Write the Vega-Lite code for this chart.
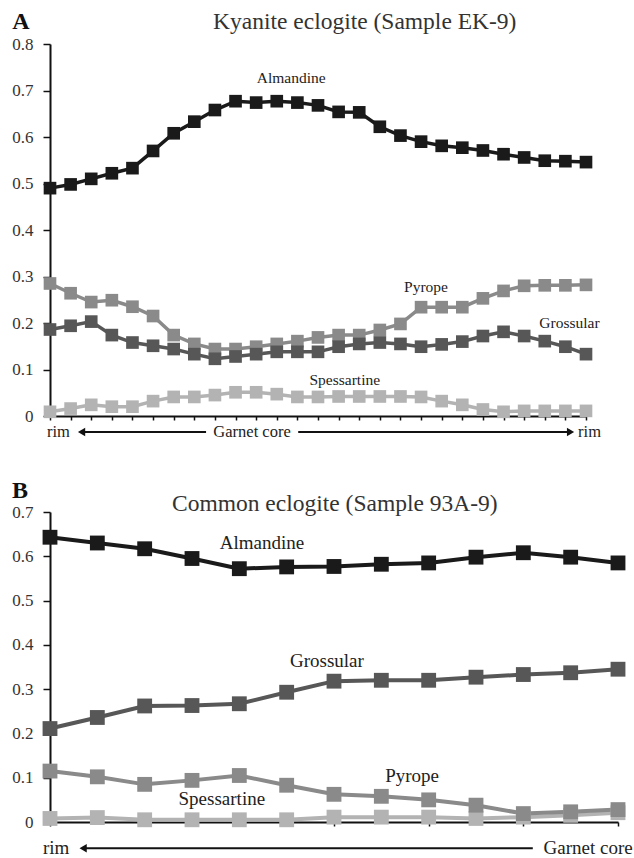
{
  "$schema": "https://vega.github.io/schema/vega-lite/v6.json",
  "background": "white",
  "padding": {"left": 11, "top": 10, "right": 5, "bottom": 5},
  "bounds": "flush",
  "spacing": 96,
  "config": {
    "view": {"stroke": null},
    "font": "Liberation Serif",
    "axis": {"grid": false, "domainColor": "#111", "domainWidth": 2, "tickColor": "#111", "tickWidth": 1.5, "labelFont": "Liberation Serif", "labelFontSize": 17, "labelColor": "#333", "title": null, "format": ".1~f"},
    "axisX": {"labels": false, "tickSize": 4},
    "axisY": {"tickSize": 7, "labelPadding": 10}
  },
  "datasets": {
    "topLines": [
      {"pos":0,"value":0.49,"mineral":"Almandine"},{"pos":1,"value":0.498,"mineral":"Almandine"},{"pos":2,"value":0.51,"mineral":"Almandine"},{"pos":3,"value":0.522,"mineral":"Almandine"},{"pos":4,"value":0.533,"mineral":"Almandine"},{"pos":5,"value":0.57,"mineral":"Almandine"},{"pos":6,"value":0.608,"mineral":"Almandine"},{"pos":7,"value":0.633,"mineral":"Almandine"},{"pos":8,"value":0.658,"mineral":"Almandine"},{"pos":9,"value":0.677,"mineral":"Almandine"},{"pos":10,"value":0.674,"mineral":"Almandine"},{"pos":11,"value":0.677,"mineral":"Almandine"},{"pos":12,"value":0.674,"mineral":"Almandine"},{"pos":13,"value":0.668,"mineral":"Almandine"},{"pos":14,"value":0.654,"mineral":"Almandine"},{"pos":15,"value":0.653,"mineral":"Almandine"},{"pos":16,"value":0.622,"mineral":"Almandine"},{"pos":17,"value":0.603,"mineral":"Almandine"},{"pos":18,"value":0.59,"mineral":"Almandine"},{"pos":19,"value":0.581,"mineral":"Almandine"},{"pos":20,"value":0.577,"mineral":"Almandine"},{"pos":21,"value":0.571,"mineral":"Almandine"},{"pos":22,"value":0.563,"mineral":"Almandine"},{"pos":23,"value":0.556,"mineral":"Almandine"},{"pos":24,"value":0.549,"mineral":"Almandine"},{"pos":25,"value":0.548,"mineral":"Almandine"},{"pos":26,"value":0.546,"mineral":"Almandine"},
      {"pos":0,"value":0.285,"mineral":"Pyrope"},{"pos":1,"value":0.264,"mineral":"Pyrope"},{"pos":2,"value":0.245,"mineral":"Pyrope"},{"pos":3,"value":0.249,"mineral":"Pyrope"},{"pos":4,"value":0.235,"mineral":"Pyrope"},{"pos":5,"value":0.215,"mineral":"Pyrope"},{"pos":6,"value":0.174,"mineral":"Pyrope"},{"pos":7,"value":0.155,"mineral":"Pyrope"},{"pos":8,"value":0.144,"mineral":"Pyrope"},{"pos":9,"value":0.144,"mineral":"Pyrope"},{"pos":10,"value":0.149,"mineral":"Pyrope"},{"pos":11,"value":0.155,"mineral":"Pyrope"},{"pos":12,"value":0.161,"mineral":"Pyrope"},{"pos":13,"value":0.169,"mineral":"Pyrope"},{"pos":14,"value":0.174,"mineral":"Pyrope"},{"pos":15,"value":0.174,"mineral":"Pyrope"},{"pos":16,"value":0.185,"mineral":"Pyrope"},{"pos":17,"value":0.198,"mineral":"Pyrope"},{"pos":18,"value":0.234,"mineral":"Pyrope"},{"pos":19,"value":0.234,"mineral":"Pyrope"},{"pos":20,"value":0.234,"mineral":"Pyrope"},{"pos":21,"value":0.253,"mineral":"Pyrope"},{"pos":22,"value":0.269,"mineral":"Pyrope"},{"pos":23,"value":0.28,"mineral":"Pyrope"},{"pos":24,"value":0.281,"mineral":"Pyrope"},{"pos":25,"value":0.281,"mineral":"Pyrope"},{"pos":26,"value":0.282,"mineral":"Pyrope"},
      {"pos":0,"value":0.186,"mineral":"Grossular"},{"pos":1,"value":0.194,"mineral":"Grossular"},{"pos":2,"value":0.203,"mineral":"Grossular"},{"pos":3,"value":0.174,"mineral":"Grossular"},{"pos":4,"value":0.158,"mineral":"Grossular"},{"pos":5,"value":0.151,"mineral":"Grossular"},{"pos":6,"value":0.144,"mineral":"Grossular"},{"pos":7,"value":0.133,"mineral":"Grossular"},{"pos":8,"value":0.123,"mineral":"Grossular"},{"pos":9,"value":0.128,"mineral":"Grossular"},{"pos":10,"value":0.133,"mineral":"Grossular"},{"pos":11,"value":0.138,"mineral":"Grossular"},{"pos":12,"value":0.138,"mineral":"Grossular"},{"pos":13,"value":0.138,"mineral":"Grossular"},{"pos":14,"value":0.149,"mineral":"Grossular"},{"pos":15,"value":0.155,"mineral":"Grossular"},{"pos":16,"value":0.158,"mineral":"Grossular"},{"pos":17,"value":0.155,"mineral":"Grossular"},{"pos":18,"value":0.149,"mineral":"Grossular"},{"pos":19,"value":0.154,"mineral":"Grossular"},{"pos":20,"value":0.16,"mineral":"Grossular"},{"pos":21,"value":0.172,"mineral":"Grossular"},{"pos":22,"value":0.181,"mineral":"Grossular"},{"pos":23,"value":0.172,"mineral":"Grossular"},{"pos":24,"value":0.161,"mineral":"Grossular"},{"pos":25,"value":0.149,"mineral":"Grossular"},{"pos":26,"value":0.133,"mineral":"Grossular"},
      {"pos":0,"value":0.009,"mineral":"Spessartine"},{"pos":1,"value":0.016,"mineral":"Spessartine"},{"pos":2,"value":0.024,"mineral":"Spessartine"},{"pos":3,"value":0.02,"mineral":"Spessartine"},{"pos":4,"value":0.02,"mineral":"Spessartine"},{"pos":5,"value":0.032,"mineral":"Spessartine"},{"pos":6,"value":0.041,"mineral":"Spessartine"},{"pos":7,"value":0.041,"mineral":"Spessartine"},{"pos":8,"value":0.045,"mineral":"Spessartine"},{"pos":9,"value":0.051,"mineral":"Spessartine"},{"pos":10,"value":0.051,"mineral":"Spessartine"},{"pos":11,"value":0.047,"mineral":"Spessartine"},{"pos":12,"value":0.041,"mineral":"Spessartine"},{"pos":13,"value":0.041,"mineral":"Spessartine"},{"pos":14,"value":0.042,"mineral":"Spessartine"},{"pos":15,"value":0.042,"mineral":"Spessartine"},{"pos":16,"value":0.042,"mineral":"Spessartine"},{"pos":17,"value":0.042,"mineral":"Spessartine"},{"pos":18,"value":0.041,"mineral":"Spessartine"},{"pos":19,"value":0.032,"mineral":"Spessartine"},{"pos":20,"value":0.024,"mineral":"Spessartine"},{"pos":21,"value":0.014,"mineral":"Spessartine"},{"pos":22,"value":0.009,"mineral":"Spessartine"},{"pos":23,"value":0.011,"mineral":"Spessartine"},{"pos":24,"value":0.011,"mineral":"Spessartine"},{"pos":25,"value":0.011,"mineral":"Spessartine"},{"pos":26,"value":0.011,"mineral":"Spessartine"}
    ],
    "bottomLines": [
      {"pos":0,"value":0.643,"mineral":"Almandine"},{"pos":1,"value":0.63,"mineral":"Almandine"},{"pos":2,"value":0.617,"mineral":"Almandine"},{"pos":3,"value":0.595,"mineral":"Almandine"},{"pos":4,"value":0.572,"mineral":"Almandine"},{"pos":5,"value":0.576,"mineral":"Almandine"},{"pos":6,"value":0.577,"mineral":"Almandine"},{"pos":7,"value":0.582,"mineral":"Almandine"},{"pos":8,"value":0.585,"mineral":"Almandine"},{"pos":9,"value":0.598,"mineral":"Almandine"},{"pos":10,"value":0.608,"mineral":"Almandine"},{"pos":11,"value":0.598,"mineral":"Almandine"},{"pos":12,"value":0.585,"mineral":"Almandine"},
      {"pos":0,"value":0.211,"mineral":"Grossular"},{"pos":1,"value":0.236,"mineral":"Grossular"},{"pos":2,"value":0.262,"mineral":"Grossular"},{"pos":3,"value":0.263,"mineral":"Grossular"},{"pos":4,"value":0.267,"mineral":"Grossular"},{"pos":5,"value":0.293,"mineral":"Grossular"},{"pos":6,"value":0.318,"mineral":"Grossular"},{"pos":7,"value":0.32,"mineral":"Grossular"},{"pos":8,"value":0.32,"mineral":"Grossular"},{"pos":9,"value":0.327,"mineral":"Grossular"},{"pos":10,"value":0.333,"mineral":"Grossular"},{"pos":11,"value":0.337,"mineral":"Grossular"},{"pos":12,"value":0.345,"mineral":"Grossular"},
      {"pos":0,"value":0.008,"mineral":"Spessartine"},{"pos":1,"value":0.01,"mineral":"Spessartine"},{"pos":2,"value":0.005,"mineral":"Spessartine"},{"pos":3,"value":0.005,"mineral":"Spessartine"},{"pos":4,"value":0.005,"mineral":"Spessartine"},{"pos":5,"value":0.005,"mineral":"Spessartine"},{"pos":6,"value":0.011,"mineral":"Spessartine"},{"pos":7,"value":0.011,"mineral":"Spessartine"},{"pos":8,"value":0.011,"mineral":"Spessartine"},{"pos":9,"value":0.008,"mineral":"Spessartine"},{"pos":10,"value":0.011,"mineral":"Spessartine"},{"pos":11,"value":0.015,"mineral":"Spessartine"},{"pos":12,"value":0.021,"mineral":"Spessartine"},
      {"pos":0,"value":0.115,"mineral":"Pyrope"},{"pos":1,"value":0.102,"mineral":"Pyrope"},{"pos":2,"value":0.085,"mineral":"Pyrope"},{"pos":3,"value":0.094,"mineral":"Pyrope"},{"pos":4,"value":0.105,"mineral":"Pyrope"},{"pos":5,"value":0.083,"mineral":"Pyrope"},{"pos":6,"value":0.0625,"mineral":"Pyrope"},{"pos":7,"value":0.058,"mineral":"Pyrope"},{"pos":8,"value":0.05,"mineral":"Pyrope"},{"pos":9,"value":0.038,"mineral":"Pyrope"},{"pos":10,"value":0.019,"mineral":"Pyrope"},{"pos":11,"value":0.023,"mineral":"Pyrope"},{"pos":12,"value":0.028,"mineral":"Pyrope"}
    ],
    "topNames": [
      {"pos":11.7,"value":0.7155,"label":"Almandine"},
      {"pos":18.24,"value":0.267,"label":"Pyrope"},
      {"pos":25.2,"value":0.1885,"label":"Grossular"},
      {"pos":14.3,"value":0.0667,"label":"Spessartine"}
    ],
    "topAxisText": [
      {"pos":0.41,"value":-0.0344,"label":"rim"},
      {"pos":9.8,"value":-0.0344,"label":"Garnet core"},
      {"pos":26.17,"value":-0.0344,"label":"rim"}
    ],
    "topArrows": [
      {"pos":1.53,"pos2":7.57,"value":-0.0344},
      {"pos":12.04,"pos2":25.25,"value":-0.0344}
    ],
    "topHeads": [
      {"pos":1.53,"value":-0.0344,"dir":"left"},
      {"pos":25.25,"value":-0.0344,"dir":"right"}
    ],
    "topLetter": [{"pos":-1.41,"value":0.832,"label":"A"}],
    "bottomNames": [
      {"pos":4.48,"value":0.617,"label":"Almandine"},
      {"pos":5.85,"value":0.35,"label":"Grossular"},
      {"pos":7.65,"value":0.0903,"label":"Pyrope"},
      {"pos":3.63,"value":0.0377,"label":"Spessartine"}
    ],
    "bottomAxisText": [
      {"pos":0.13,"value":-0.0594,"label":"rim"},
      {"pos":11.37,"value":-0.0594,"label":"Garnet core"}
    ],
    "bottomArrows": [{"pos":0.7,"pos2":10.2,"value":-0.0594}],
    "bottomHeads": [{"pos":0.7,"value":-0.0594,"dir":"left"}],
    "bottomLetter": [{"pos":-0.634,"value":0.731,"label":"B"}]
  },
  "vconcat": [
    {
      "width": 536,
      "height": 372,
      "title": {"text": "Kyanite eclogite (Sample EK-9)", "anchor": "start", "frame": "group", "dx": 163, "offset": -23.6, "fontSize": 23.5, "fontWeight": "normal", "font": "Liberation Serif", "color": "#333"},
      "encoding": {
        "x": {"field": "pos", "type": "quantitative", "title": null, "scale": {"domain": [0, 26], "nice": false, "zero": false}, "axis": {"values": [0,1,2,3,4,5,6,7,8,9,10,11,12,13,14,15,16,17,18,19,20,21,22,23,24,25,26]}},
        "y": {"field": "value", "type": "quantitative", "title": null, "scale": {"domain": [0, 0.8], "nice": false}, "axis": {"values": [0,0.1,0.2,0.3,0.4,0.5,0.6,0.7,0.8]}}
      },
      "layer": [
        {
          "data": {"name": "topLines"},
          "mark": {"type": "line", "strokeWidth": 3.5},
          "encoding": {
            "color": {"field": "mineral", "type": "nominal", "scale": {"domain": ["Almandine", "Pyrope", "Grossular", "Spessartine"], "range": ["#1a1a1a", "#8a8a8a", "#575757", "#b3b3b3"]}, "legend": null}
          }
        },
        {
          "data": {"name": "topLines"},
          "mark": {"type": "point", "shape": "square", "filled": true, "size": 160, "opacity": 1},
          "encoding": {
            "color": {"field": "mineral", "type": "nominal", "scale": {"domain": ["Almandine", "Pyrope", "Grossular", "Spessartine"], "range": ["#1a1a1a", "#8a8a8a", "#575757", "#b3b3b3"]}, "legend": null}
          }
        },
        {
          "data": {"name": "topNames"},
          "mark": {"type": "text", "fontSize": 15.5, "color": "#222", "align": "center", "baseline": "alphabetic", "font": "Liberation Serif"},
          "encoding": {"text": {"field": "label"}}
        },
        {
          "data": {"name": "topAxisText"},
          "mark": {"type": "text", "fontSize": 16.5, "color": "#222", "align": "center", "baseline": "middle", "font": "Liberation Serif"},
          "encoding": {"text": {"field": "label"}}
        },
        {
          "data": {"name": "topArrows"},
          "mark": {"type": "rule", "strokeWidth": 2, "color": "#111"},
          "encoding": {"x2": {"field": "pos2"}}
        },
        {
          "data": {"name": "topHeads"},
          "mark": {"type": "point", "filled": true, "size": 70, "color": "#111", "opacity": 1},
          "encoding": {"shape": {"field": "dir", "type": "nominal", "scale": {"domain": ["left", "right"], "range": ["triangle-left", "triangle-right"]}, "legend": null}}
        },
        {
          "data": {"name": "topLetter"},
          "mark": {"type": "text", "fontSize": 24, "fontWeight": "bold", "color": "#111", "align": "center", "baseline": "alphabetic", "font": "Liberation Serif"},
          "encoding": {"text": {"field": "label"}}
        }
      ]
    },
    {
      "width": 568,
      "height": 310,
      "title": {"text": "Common eclogite (Sample 93A-9)", "anchor": "start", "frame": "group", "dx": 122, "offset": -36, "fontSize": 23.5, "fontWeight": "normal", "font": "Liberation Serif", "color": "#333"},
      "encoding": {
        "x": {"field": "pos", "type": "quantitative", "title": null, "scale": {"domain": [0, 12], "nice": false, "zero": false}, "axis": {"values": [0,2,4,6,8,10,12]}},
        "y": {"field": "value", "type": "quantitative", "title": null, "scale": {"domain": [0, 0.7], "nice": false}, "axis": {"values": [0,0.1,0.2,0.3,0.4,0.5,0.6,0.7]}}
      },
      "layer": [
        {
          "data": {"name": "bottomLines"},
          "mark": {"type": "line", "strokeWidth": 4},
          "encoding": {
            "color": {"field": "mineral", "type": "nominal", "scale": {"domain": ["Almandine", "Pyrope", "Grossular", "Spessartine"], "range": ["#1a1a1a", "#8a8a8a", "#575757", "#b3b3b3"]}, "legend": null}
          }
        },
        {
          "data": {"name": "bottomLines"},
          "mark": {"type": "point", "shape": "square", "filled": true, "size": 220, "opacity": 1},
          "encoding": {
            "color": {"field": "mineral", "type": "nominal", "scale": {"domain": ["Almandine", "Pyrope", "Grossular", "Spessartine"], "range": ["#1a1a1a", "#8a8a8a", "#575757", "#b3b3b3"]}, "legend": null}
          }
        },
        {
          "data": {"name": "bottomNames"},
          "mark": {"type": "text", "fontSize": 19, "color": "#222", "align": "center", "baseline": "alphabetic", "font": "Liberation Serif"},
          "encoding": {"text": {"field": "label"}}
        },
        {
          "data": {"name": "bottomAxisText"},
          "mark": {"type": "text", "fontSize": 19, "color": "#222", "align": "center", "baseline": "middle", "font": "Liberation Serif"},
          "encoding": {"text": {"field": "label"}}
        },
        {
          "data": {"name": "bottomArrows"},
          "mark": {"type": "rule", "strokeWidth": 2, "color": "#111"},
          "encoding": {"x2": {"field": "pos2"}}
        },
        {
          "data": {"name": "bottomHeads"},
          "mark": {"type": "point", "filled": true, "size": 70, "color": "#111", "opacity": 1},
          "encoding": {"shape": {"field": "dir", "type": "nominal", "scale": {"domain": ["left", "right"], "range": ["triangle-left", "triangle-right"]}, "legend": null}}
        },
        {
          "data": {"name": "bottomLetter"},
          "mark": {"type": "text", "fontSize": 24, "fontWeight": "bold", "color": "#111", "align": "center", "baseline": "alphabetic", "font": "Liberation Serif"},
          "encoding": {"text": {"field": "label"}}
        }
      ]
    }
  ]
}
